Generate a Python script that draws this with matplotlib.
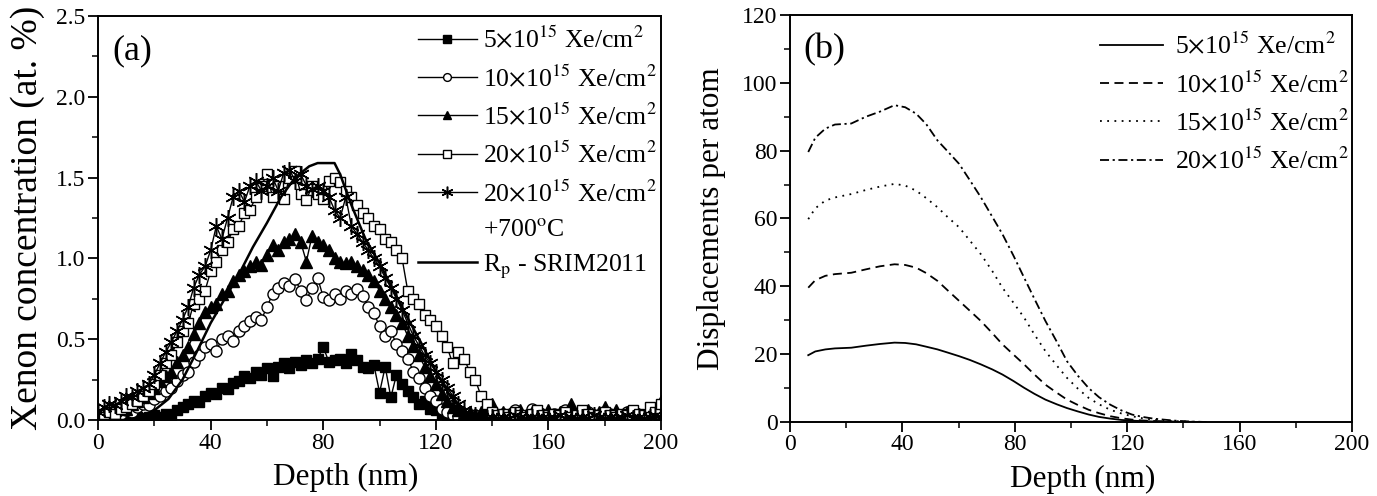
import numpy as np
import matplotlib
matplotlib.use("Agg")
import matplotlib.pyplot as plt

plt.rcParams['font.family'] = ['Liberation Serif', 'DejaVu Serif']
plt.rcParams['mathtext.fontset'] = 'stix'

# ---- panel (a): Xe concentration profiles (at. %) ----
depth_a = np.arange(0, 201, 2)

xe_5 = [0.01, 0.00, 0.01, 0.00, 0.01, 0.00, 0.01, 0.02, 0.01, 0.02,
        0.03, 0.02, 0.04, 0.03, 0.06, 0.08, 0.10, 0.12, 0.11, 0.15,
        0.17, 0.16, 0.20, 0.19, 0.23, 0.24, 0.27, 0.26, 0.30, 0.28,
        0.32, 0.27, 0.33, 0.35, 0.32, 0.36, 0.34, 0.37, 0.35, 0.38,
        0.45, 0.36, 0.37, 0.38, 0.35, 0.41, 0.37, 0.33, 0.32, 0.34,
        0.17, 0.33, 0.14, 0.28, 0.22, 0.18, 0.14, 0.10, 0.12, 0.07,
        0.06, 0.04, 0.03, 0.02, 0.03, 0.01, 0.02, 0.01, 0.00, 0.02,
        0.01, 0.00, 0.02, 0.01, 0.00, 0.01, 0.02, 0.00, 0.01, 0.02,
        0.00, 0.01, 0.00, 0.02, 0.01, 0.00, 0.01, 0.02, 0.00, 0.01,
        0.00, 0.02, 0.01, 0.00, 0.01, 0.00, 0.02, 0.01, 0.00, 0.01,
        0.02]

xe_10 = [0.02, 0.03, 0.02, 0.05, 0.04, 0.06, 0.05, 0.08, 0.10, 0.09,
         0.13, 0.15, 0.18, 0.20, 0.24, 0.28, 0.30, 0.36, 0.40, 0.45,
         0.47, 0.43, 0.50, 0.52, 0.49, 0.55, 0.58, 0.61, 0.64, 0.62,
         0.70, 0.78, 0.82, 0.85, 0.83, 0.87, 0.80, 0.74, 0.82, 0.88,
         0.76, 0.74, 0.78, 0.75, 0.80, 0.78, 0.81, 0.77, 0.70, 0.66,
         0.58, 0.52, 0.55, 0.47, 0.43, 0.38, 0.30, 0.26, 0.20, 0.15,
         0.12, 0.07, 0.05, 0.03, 0.02, 0.01, 0.02, 0.03, 0.02, 0.04,
         0.03, 0.02, 0.04, 0.03, 0.06, 0.03, 0.02, 0.07, 0.04, 0.03,
         0.02, 0.04, 0.03, 0.06, 0.04, 0.02, 0.03, 0.05, 0.03, 0.02,
         0.03, 0.04, 0.02, 0.03, 0.05, 0.04, 0.02, 0.01, 0.03, 0.02,
         0.03]

xe_15 = [0.03, 0.05, 0.04, 0.06, 0.08, 0.07, 0.10, 0.12, 0.14, 0.17,
         0.20, 0.24, 0.27, 0.30, 0.36, 0.40, 0.45, 0.53, 0.60, 0.67,
         0.70, 0.72, 0.78, 0.80, 0.86, 0.90, 0.92, 0.95, 0.98, 0.96,
         1.02, 1.08, 1.05, 1.10, 1.12, 1.15, 1.10, 0.98, 1.14, 1.10,
         1.08, 1.05, 1.00, 0.98, 0.97, 0.98, 0.95, 0.93, 0.90, 0.86,
         0.80, 0.75, 0.70, 0.65, 0.60, 0.52, 0.46, 0.40, 0.33, 0.27,
         0.22, 0.16, 0.12, 0.08, 0.06, 0.04, 0.05, 0.03, 0.05, 0.08,
         0.10, 0.03, 0.05, 0.04, 0.02, 0.06, 0.03, 0.05, 0.02, 0.04,
         0.06, 0.03, 0.05, 0.02, 0.10, 0.04, 0.03, 0.06, 0.02, 0.05,
         0.08, 0.04, 0.06, 0.03, 0.05, 0.02, 0.04, 0.03, 0.05, 0.06,
         0.12]

xe_20 = [0.03, 0.02, 0.05, 0.04, 0.07, 0.08, 0.10, 0.12, 0.15, 0.18,
         0.22, 0.28, 0.35, 0.40, 0.48, 0.55, 0.60, 0.72, 0.75, 0.80,
         0.92, 0.98, 1.05, 1.10, 1.18, 1.20, 1.28, 1.30, 1.38, 1.45,
         1.52, 1.38, 1.45, 1.37, 1.50, 1.54, 1.40, 1.36, 1.45, 1.40,
         1.37, 1.48, 1.50, 1.47, 1.42, 1.38, 1.33, 1.28, 1.25, 1.20,
         1.18, 1.12, 1.10, 1.05, 1.00, 0.80, 0.75, 0.72, 0.65, 0.62,
         0.58, 0.52, 0.45, 0.35, 0.42, 0.38, 0.30, 0.25, 0.15, 0.10,
         0.05, 0.03, 0.04, 0.02, 0.05, 0.03, 0.02, 0.04, 0.06, 0.03,
         0.02, 0.04, 0.03, 0.05, 0.02, 0.03, 0.06, 0.04, 0.02, 0.03,
         0.05, 0.03, 0.02, 0.04, 0.03, 0.06, 0.04, 0.03, 0.08, 0.05,
         0.10]

xe_20_700 = [0.05, 0.08, 0.10, 0.09, 0.12, 0.15, 0.14, 0.18, 0.20, 0.22,
             0.28, 0.35, 0.42, 0.48, 0.55, 0.62, 0.70, 0.82, 0.90, 0.95,
             1.05, 1.20, 1.12, 1.25, 1.38, 1.42, 1.35, 1.45, 1.48, 1.42,
             1.45, 1.50, 1.42, 1.53, 1.55, 1.48, 1.52, 1.45, 1.43, 1.45,
             1.42, 1.38, 1.30, 1.25, 1.38, 1.20, 1.15, 1.10, 1.05, 1.00,
             0.95, 0.88, 0.82, 0.75, 0.68, 0.60, 0.52, 0.46, 0.40, 0.35,
             0.30, 0.25, 0.20, 0.15, 0.10, 0.06, 0.04, 0.03, 0.02, 0.01,
             0.02, 0.01, 0.02, 0.01, 0.03, 0.02, 0.01, 0.02, 0.01, 0.02,
             0.01, 0.02, 0.03, 0.01, 0.02, 0.01, 0.02, 0.01, 0.03, 0.02,
             0.01, 0.02, 0.01, 0.02, 0.03, 0.01, 0.02, 0.01, 0.02, 0.03,
             0.02]

srim_depth = [0, 10, 15, 20, 25, 30, 35, 40, 45, 50, 55, 60, 65, 70, 75, 78,
              84, 86, 90, 95, 100, 105, 110, 115, 120, 125, 130, 135, 140, 200]
srim_rp = [0.0, 0.0, 0.02, 0.06, 0.13, 0.25, 0.42, 0.60, 0.75, 0.90, 1.07,
           1.22, 1.38, 1.50, 1.57, 1.59, 1.59, 1.52, 1.33, 1.12, 0.97, 0.80,
           0.63, 0.47, 0.30, 0.15, 0.06, 0.01, 0.0, 0.0]

labels_a = [r'5$\times$10$^{15}$ Xe/cm$^{2}$',
            r'10$\times$10$^{15}$ Xe/cm$^{2}$',
            r'15$\times$10$^{15}$ Xe/cm$^{2}$',
            r'20$\times$10$^{15}$ Xe/cm$^{2}$',
            r'20$\times$10$^{15}$ Xe/cm$^{2}$']

# ---- panel (b): displacements per atom (SRIM) ----
depth_b = [6.5, 9, 12.6, 16, 21.8, 27, 32, 37.2, 41, 44.9, 48.5, 52.5, 56,
           60.2, 64, 67.9, 72, 75.6, 79.5, 83.3, 87, 90.9, 95, 98.6, 102.5,
           106.3, 110, 114, 118, 121.7, 125.5, 129.3, 133, 137, 142, 148]

dpa_5 = [19.7, 20.8, 21.4, 21.7, 21.9, 22.5, 23.0, 23.4, 23.3, 22.9, 22.2,
         21.4, 20.5, 19.4, 18.3, 17.0, 15.5, 14.0, 12.1, 10.1, 8.3, 6.6,
         5.2, 4.1, 3.1, 2.2, 1.5, 1.0, 0.6, 0.4, 0.25, 0.15, 0.1, 0.05,
         0.02, 0.0]
dpa_10 = [39.6, 41.8, 43.1, 43.6, 44.0, 45.0, 45.9, 46.5, 46.3, 45.5, 43.9,
          41.6, 38.9, 35.7, 32.8, 29.8, 26.2, 22.9, 19.9, 17.0, 14.0, 11.0,
          8.6, 6.6, 5.0, 3.6, 2.6, 1.7, 1.1, 0.7, 0.45, 0.3, 0.2, 0.1, 0.05,
          0.0]
dpa_15 = [59.8, 63.0, 65.3, 66.2, 67.2, 68.4, 69.4, 70.2, 69.7, 68.2, 66.0,
          63.3, 60.5, 57.4, 53.5, 49.5, 44.5, 39.6, 35.2, 30.8, 25.8, 20.9,
          16.6, 13.0, 9.8, 7.1, 5.2, 3.6, 2.5, 1.7, 1.1, 0.7, 0.45, 0.25,
          0.1, 0.0]
dpa_20 = [79.6, 83.8, 86.5, 87.7, 88.0, 90.0, 91.5, 93.4, 92.8, 90.9, 87.8,
          83.0, 79.9, 76.1, 71.3, 66.3, 60.5, 55.4, 49.1, 42.6, 36.3, 29.8,
          23.6, 17.9, 13.6, 10.0, 7.3, 5.1, 3.4, 2.2, 1.5, 1.0, 0.7, 0.4,
          0.15, 0.0]

labels_b = [r'5$\times$10$^{15}$ Xe/cm$^{2}$',
            r'10$\times$10$^{15}$ Xe/cm$^{2}$',
            r'15$\times$10$^{15}$ Xe/cm$^{2}$',
            r'20$\times$10$^{15}$ Xe/cm$^{2}$']

fig = plt.figure(figsize=(13.77, 4.96), dpi=100)
ax1 = fig.add_axes([0.0712, 0.1532, 0.4089, 0.8145])
ax2 = fig.add_axes([0.5737, 0.1492, 0.4081, 0.8206])

tick_fs = 17
label_fs = 22.5
leg_fs = 18.5

# panel (a)
ax1.plot(depth_a, xe_5, '-', color='k', lw=1.0, marker='s', ms=7.5,
         mfc='k', mec='k', label=labels_a[0])
ax1.plot(depth_a, xe_10, '-', color='k', lw=1.0, marker='o', ms=8,
         mfc='white', mec='k', mew=1.0, label=labels_a[1])
ax1.plot(depth_a, xe_15, '-', color='k', lw=1.0, marker='^', ms=8.5,
         mfc='k', mec='k', label=labels_a[2])
ax1.plot(depth_a, xe_20, '-', color='k', lw=1.0, marker='s', ms=7.5,
         mfc='white', mec='k', mew=1.0, label=labels_a[3])
ax1.plot(depth_a, xe_20_700, '-', color='k', lw=1.0, marker=(6, 2, 0),
         ms=12, mec='k', mew=1.1, label=labels_a[4])
ax1.plot([], [], ' ', label=r'+700$^{\mathrm{o}}$C')
ax1.plot(srim_depth, srim_rp, '-', color='k', lw=1.8,
         label=r'R$_\mathrm{p}$ - SRIM2011')

ax1.set_xlim(0, 200)
ax1.set_ylim(0, 2.5)
ax1.set_xticks([0, 40, 80, 120, 160, 200])
ax1.set_xticks(np.arange(20, 200, 40), minor=True)
ax1.set_yticks([0.0, 0.5, 1.0, 1.5, 2.0, 2.5])
ax1.set_yticks([0.25, 0.75, 1.25, 1.75, 2.25], minor=True)
ax1.set_yticklabels(['0.0', '0.5', '1.0', '1.5', '2.0', '2.5'])
ax1.set_xlabel('Depth (nm)', fontsize=label_fs)
ax1.set_ylabel('Xenon concentration (at. %)', fontsize=27)
ax1.xaxis.set_label_coords(0.44, -0.105)
ax1.yaxis.set_label_coords(-0.094, 0.5)
ax1.text(0.025, 0.915, '(a)', transform=ax1.transAxes, fontsize=26,
         va='center', ha='left')
ax1.legend(loc='upper left', bbox_to_anchor=(0.568, 0.975), frameon=False,
           fontsize=leg_fs, handlelength=2.3, handletextpad=0.25,
           labelspacing=0.46, borderpad=0, borderaxespad=0, markerscale=0.7)

# panel (b)
ax2.plot(depth_b, dpa_5, color='k', lw=1.3, linestyle='-', label=labels_b[0])
ax2.plot(depth_b, dpa_10, color='k', lw=1.3, linestyle=(0, (5, 3)),
         label=labels_b[1])
ax2.plot(depth_b, dpa_15, color='k', lw=1.3, linestyle=(0, (1, 3)),
         label=labels_b[2])
ax2.plot(depth_b, dpa_20, color='k', lw=1.3, linestyle=(0, (5, 2, 1.2, 2)),
         label=labels_b[3])

ax2.set_xlim(0, 200)
ax2.set_ylim(0, 120)
ax2.set_xticks([0, 40, 80, 120, 160, 200])
ax2.set_xticks(np.arange(20, 200, 40), minor=True)
ax2.set_yticks(np.arange(0, 121, 20))
ax2.set_yticks(np.arange(10, 120, 20), minor=True)
ax2.set_xlabel('Depth (nm)', fontsize=label_fs)
ax2.set_ylabel('Displacements per atom', fontsize=label_fs)
ax2.xaxis.set_label_coords(0.52, -0.105)
ax2.yaxis.set_label_coords(-0.114, 0.5)
ax2.text(0.024, 0.914, '(b)', transform=ax2.transAxes, fontsize=26,
         va='center', ha='left')
ax2.legend(loc='upper left', bbox_to_anchor=(0.551, 0.958), frameon=False,
           fontsize=leg_fs, handlelength=2.45, handletextpad=0.5,
           labelspacing=0.46, borderpad=0, borderaxespad=0)

for ax in (ax1, ax2):
    for sp in ax.spines.values():
        sp.set_linewidth(1.4)
    ax.tick_params(which='major', direction='out', length=7, width=1.3,
                   labelsize=tick_fs, pad=2, top=False, right=False)
    ax.tick_params(which='minor', direction='out', length=4, width=1.1,
                   top=False, right=False)

fig.savefig('out.png', dpi=100)
